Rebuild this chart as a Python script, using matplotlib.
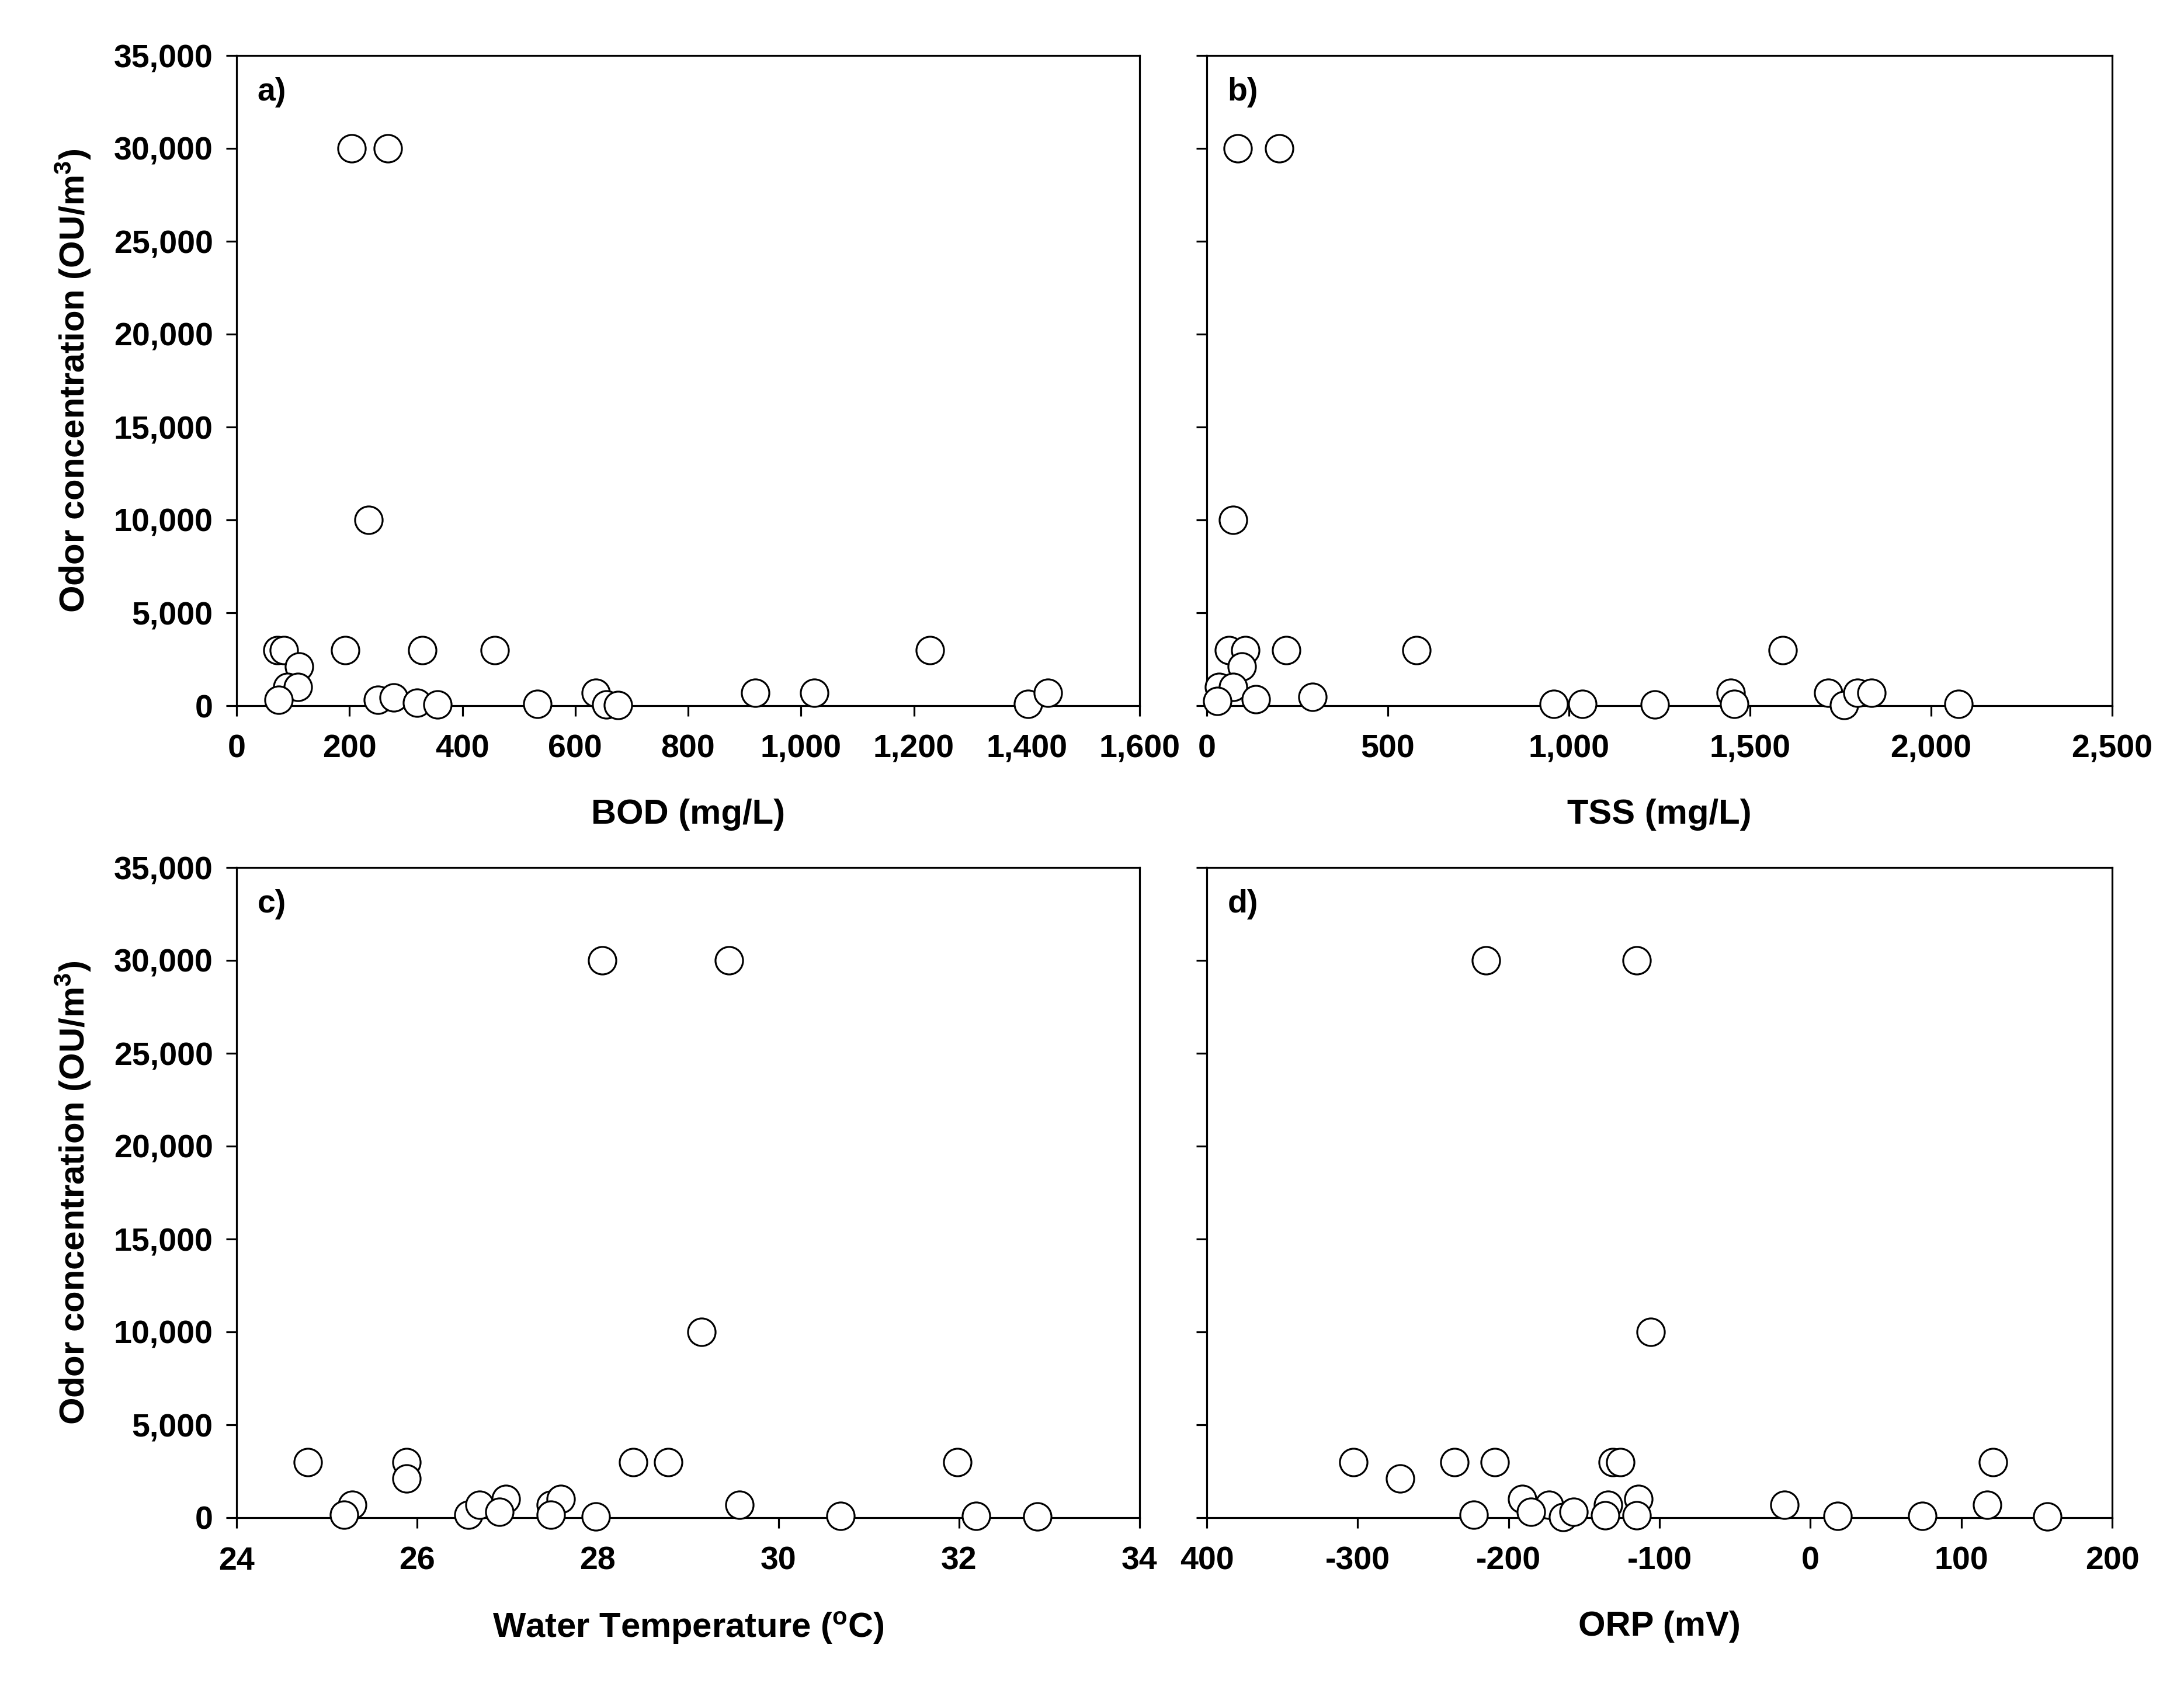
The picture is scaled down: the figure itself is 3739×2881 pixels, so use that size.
import matplotlib
matplotlib.use("Agg")
import matplotlib.pyplot as plt
from matplotlib.ticker import FuncFormatter

plt.rcParams['font.family'] = ['Liberation Sans', 'DejaVu Sans']
plt.rcParams['font.weight'] = 'bold'
plt.rcParams['axes.unicode_minus'] = False
plt.rcParams['mathtext.fontset'] = 'custom'
plt.rcParams['mathtext.rm'] = 'Liberation Sans:bold'
plt.rcParams['mathtext.bf'] = 'Liberation Sans:bold'
plt.rcParams['mathtext.it'] = 'Liberation Sans:bold'

# ---- data ----
a_bod = [204, 268, 234, 72, 84, 193, 329, 457, 1228, 111, 90, 109, 74, 250, 278, 320, 356, 533, 636, 655, 676, 919, 1024, 1402, 1438]
a_odor = [30000, 30000, 10000, 3000, 3000, 3000, 3000, 3000, 3000, 2100, 1000, 1000, 330, 300, 450, 150, 50, 100, 700, 50, 20, 700, 700, 100, 700]

b_tss = [85, 200, 73, 62, 106, 219, 579, 1591, 96, 34, 73, 29, 135, 292, 958, 1037, 1237, 1446, 1456, 1716, 1759, 1797, 1836, 2075]
b_odor = [30000, 30000, 10000, 3000, 3000, 3000, 3000, 3000, 2100, 1000, 1000, 250, 350, 470, 100, 100, 50, 700, 100, 700, 30, 700, 700, 100]

c_temp = [28.05, 29.45, 29.15, 24.79, 25.88, 28.39, 28.78, 31.98, 25.88, 25.28, 25.19, 26.57, 26.69, 26.98, 26.91, 27.48, 27.59, 27.48, 27.98, 29.57, 30.69, 32.19, 32.87]
c_odor = [30000, 30000, 10000, 3000, 3000, 3000, 3000, 3000, 2100, 700, 150, 150, 700, 1000, 300, 700, 1000, 150, 60, 700, 100, 100, 60]

d_orp = [-215, -115, -106, -303, -236, -209, -131, -126, 121, -272, -223, -191, -173, -185, -164, -157, -134, -136, -114, -115, -17, 18, 74, 117, 157]
d_odor = [30000, 30000, 10000, 3000, 3000, 3000, 3000, 3000, 3000, 2100, 150, 1000, 700, 330, 30, 330, 700, 140, 1000, 120, 700, 100, 100, 700, 50]

y_ticks = [0, 5000, 10000, 15000, 20000, 25000, 30000, 35000]
a_ticks = [0, 200, 400, 600, 800, 1000, 1200, 1400, 1600]
b_ticks = [0, 500, 1000, 1500, 2000, 2500]
c_ticks = [24, 26, 28, 30, 32, 34]
d_ticks = [-400, -300, -200, -100, 0, 100, 200]
d_ticklabels = ["400", "-300", "-200", "-100", "0", "100", "200"]

ylabel = r"Odor concentration (OU/m$^{\mathbf{3}}$)"
FS = 40
LFS = 43

fig = plt.figure(figsize=(37.39, 28.81), dpi=100)

W, H = 3739, 2881
def box(l, r, t, b):
    return [l / W, 1 - b / H, (r - l) / W, (b - t) / H]

ax_a = fig.add_axes(box(405, 1951, 95, 1208))
ax_b = fig.add_axes(box(2066, 3616, 95, 1208))
ax_c = fig.add_axes(box(405, 1951, 1485, 2598))
ax_d = fig.add_axes(box(2066, 3616, 1485, 2598))

comma = FuncFormatter(lambda v, p: f"{int(round(v)):,}")

def style(ax, x, y, xlim, xticks, xlabel, tag, show_ylab, xfmt=None, xticklabels=None):
    ax.scatter(x, y, s=1150, facecolor='white', edgecolor='black', linewidths=2.3,
               zorder=5, clip_on=False)
    ax.set_xlim(*xlim)
    ax.set_ylim(0, 35000)
    ax.set_xticks(xticks)
    if xticklabels is not None:
        ax.set_xticklabels(xticklabels)
    elif xfmt is not None:
        ax.xaxis.set_major_formatter(xfmt)
    ax.set_yticks(y_ticks)
    ax.yaxis.set_major_formatter(comma)
    for s in ax.spines.values():
        s.set_linewidth(2.3)
    ax.tick_params(axis='both', direction='out', length=13, width=2.3,
                   labelsize=FS, top=False, right=False)
    ax.tick_params(axis='x', pad=22)
    ax.tick_params(axis='y', pad=16)
    if not show_ylab:
        ax.tick_params(axis='y', labelleft=False)
    else:
        ax.set_ylabel(ylabel, fontsize=LFS, fontweight='bold', labelpad=26)
    ax.set_xlabel(xlabel, fontsize=LFS, fontweight='bold', labelpad=42)
    for lab in ax.get_xticklabels() + ax.get_yticklabels():
        lab.set_fontweight('bold')
    ax.text(0.023, 0.967, tag, transform=ax.transAxes, fontsize=FS,
            fontweight='bold', va='top', ha='left')

style(ax_a, a_bod, a_odor, (0, 1600), a_ticks, "BOD (mg/L)", "a)", True, xfmt=comma)
style(ax_b, b_tss, b_odor, (0, 2500), b_ticks, "TSS (mg/L)", "b)", False, xfmt=comma)
style(ax_c, c_temp, c_odor, (24, 34), c_ticks, r"Water Temperature ($^{\mathbf{o}}$C)", "c)", True,
      xfmt=FuncFormatter(lambda v, p: f"{int(round(v))}"))
style(ax_d, d_orp, d_odor, (-400, 200), d_ticks, "ORP (mV)", "d)", False, xticklabels=d_ticklabels)

fig.savefig("out.png", dpi=100, facecolor='white')
